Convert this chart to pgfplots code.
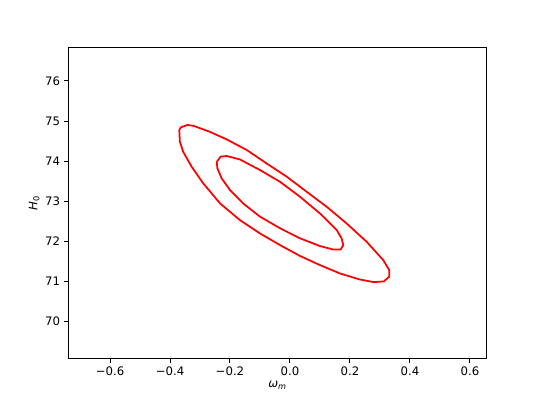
\documentclass[border=0pt]{standalone}
\usepackage{fontspec}
\setmainfont{DejaVu Sans}
\usepackage{pgfplots}
\pgfplotsset{compat=1.18}
\begin{document}
\begin{tikzpicture}
\begin{axis}[
  scale only axis,
  width=357pt, height=265.7pt,
  xmin=-0.739, xmax=0.656,
  ymin=69.06, ymax=76.84,
  xtick={-0.6,-0.4,-0.2,0,0.2,0.4,0.6},
  xticklabels={−0.6,−0.4,−0.2,0.0,0.2,0.4,0.6},
  ytick={70,71,72,73,74,75,76},
  yticklabels={70,71,72,73,74,75,76},
  tick align=outside,
  major tick length=3.5pt,
  tick style={black, line width=0.8pt},
  axis line style={line width=0.8pt, black},
  xtick pos=bottom, ytick pos=left,
  tick label style={font=\fontsize{10}{12}\selectfont},
  xlabel={\textit{ω}\textsubscript{\textit{m}}},
  ylabel={\textit{H}\textsubscript{0}},
  label style={font=\fontsize{10}{12}\selectfont},
  xlabel style={yshift=2pt},
  ylabel style={yshift=-2pt},
  clip=false,
]
\addplot[red, line width=1.5pt, line join=round] coordinates {
(-0.369,74.775) (-0.364,74.84) (-0.342,74.90) (-0.322,74.88) (-0.267,74.73)
(-0.211,74.54) (-0.144,74.275) (-0.078,73.94) (-0.011,73.61) (0.056,73.23)
(0.122,72.86) (0.189,72.44) (0.256,71.98) (0.311,71.525) (0.331,71.275)
(0.331,71.11) (0.313,70.99) (0.278,70.975) (0.233,71.04) (0.167,71.19)
(0.100,71.40) (0.033,71.63) (-0.033,71.90) (-0.100,72.19) (-0.167,72.525)
(-0.233,72.94) (-0.289,73.44) (-0.328,73.86) (-0.356,74.23) (-0.367,74.48)
(-0.369,74.775)
};
\addplot[red, line width=1.5pt, line join=round] coordinates {
(-0.244,73.98) (-0.231,74.11) (-0.211,74.125) (-0.167,74.04) (-0.100,73.775)
(-0.033,73.48) (0.033,73.11) (0.100,72.69) (0.156,72.275) (0.172,72.07)
(0.178,71.90) (0.169,71.79) (0.144,71.79) (0.100,71.875) (0.033,72.07)
(-0.033,72.32) (-0.100,72.61) (-0.156,72.94) (-0.200,73.275) (-0.228,73.57)
(-0.242,73.82) (-0.244,73.98)
};
\end{axis}
\pgfresetboundingbox
\path[use as bounding box] ([xshift=-58.3pt,yshift=-38.7pt]current axis.south west) rectangle ([xshift=45.5pt,yshift=40.4pt]current axis.north east);
\end{tikzpicture}
\end{document}
